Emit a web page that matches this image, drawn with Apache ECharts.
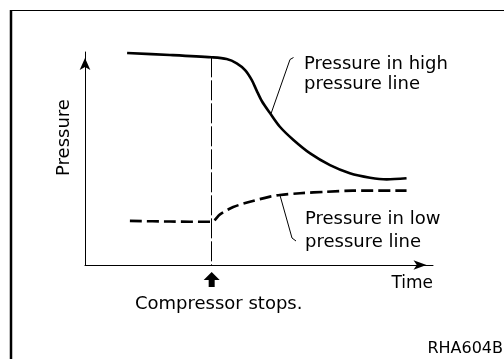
<!DOCTYPE html>
<html>
<head>
<meta charset="utf-8">
<script src="https://cdn.jsdelivr.net/npm/echarts@6/dist/echarts.min.js"></script>
<style>
  html, body { margin: 0; padding: 0; background: #ffffff; }
  #chart { width: 504px; height: 360px; }
</style>
</head>
<body>
<div id="chart"></div>
<script>
// Time axis runs 0..100, pressure axis 0..100 (arbitrary units)
const stopTime = 36.4;

// Pressure in the high pressure line: flat, then drops after the compressor stops
const timeHigh     = [12.1, 24.4, 36.4, 40.7, 43.6, 46.0, 47.9, 49.3, 50.8, 53.2, 56.0, 59.9, 64.7, 70.4, 76.1, 81.9, 86.7, 92.4];
const pressureHigh = [99.5, 98.6, 97.5, 96.7, 94.7, 91.5, 86.9, 82.0, 77.0, 71.2, 64.9, 58.7, 52.4, 46.9, 43.1, 41.0, 40.2, 40.7];

// Pressure in the low pressure line: flat, then rises after the compressor stops
const timeLow     = [12.9, 24.4, 36.4, 38.8, 42.6, 47.4, 53.2, 56.0, 61.8, 69.5, 77.0, 92.4];
const pressureLow = [20.7, 20.4, 20.3, 23.8, 27.2, 29.7, 32.1, 32.9, 33.7, 34.4, 34.9, 34.9];

// Curve points the callout leaders point at (indices into the arrays above)
const highLeaderIdx = 9;
const lowLeaderIdx = 7;

const highLabel = ['Pressure in high', 'pressure line'];
const lowLabel = ['Pressure in low', 'pressure line'];
const yName = 'Pressure';
const xName = 'Time';
const stopLabel = 'Compressor stops.';
const figureCode = 'RHA604B';

const FONT = 'DejaVu Sans';
const INK = '#000000';

const pairs = (xs, ys) => xs.map((x, i) => [x, ys[i]]);
const highAtStop = pressureHigh[timeHigh.indexOf(stopTime)];

const chart = echarts.init(document.getElementById('chart'), null, { renderer: 'canvas' });

chart.setOption({
  animation: false,
  backgroundColor: '#ffffff',
  grid: { left: 85, right: 71, top: 52, bottom: 95, containLabel: false },
  xAxis: {
    type: 'value', min: 0, max: 100,
    axisLine: {
      show: true, onZero: false,
      symbol: ['none', 'arrow'], symbolSize: [7, 13], symbolOffset: [0, -6.5],
      lineStyle: { color: INK, width: 1 }
    },
    axisTick: { show: false }, axisLabel: { show: false }, splitLine: { show: false }
  },
  yAxis: {
    type: 'value', min: 0, max: 100,
    axisLine: {
      show: true, onZero: false,
      symbol: ['none', 'arrow'], symbolSize: [8, 12], symbolOffset: [0, -6],
      lineStyle: { color: INK, width: 1 }
    },
    axisTick: { show: false }, axisLabel: { show: false }, splitLine: { show: false }
  },
  series: [
    {
      name: 'high',
      type: 'line',
      data: pairs(timeHigh, pressureHigh),
      smooth: 0.3,
      showSymbol: false,
      lineStyle: { color: INK, width: 2.6 },
      markLine: {
        silent: true,
        symbol: ['none', 'none'],
        label: { show: false },
        lineStyle: { color: INK, width: 1, type: [20, 3] },
        data: [[{ coord: [stopTime, highAtStop] }, { coord: [stopTime, 0] }]]
      }
    },
    {
      name: 'low',
      type: 'line',
      data: pairs(timeLow, pressureLow),
      smooth: 0.3,
      showSymbol: false,
      lineStyle: { color: INK, width: 2.6, type: [12, 5] }
    },
    {
      name: 'stop',
      type: 'scatter',
      clip: false,
      data: [[stopTime, 0]],
      symbol: 'path://M8,0 L16,8 L11,8 L11,15 L5,15 L5,8 L0,8 Z',
      symbolSize: [16, 15],
      symbolOffset: [0, 14.5],
      itemStyle: { color: INK, opacity: 1 },
      label: {
        show: true, position: 'bottom', distance: 8, offset: [7, 0],
        formatter: stopLabel,
        fontFamily: FONT, fontSize: 18, color: INK
      }
    }
  ]
});

// Annotations: callout texts with leaders, axis names, frame and figure code
const hp = chart.convertToPixel({ seriesIndex: 0 }, [timeHigh[highLeaderIdx], pressureHigh[highLeaderIdx]]);
const lp = chart.convertToPixel({ seriesIndex: 1 }, [timeLow[lowLeaderIdx], pressureLow[lowLeaderIdx]]);

const txt = (x, y, s, extra) => Object.assign({
  type: 'text', x, y, silent: true,
  style: Object.assign({ text: s, font: '18px "' + FONT + '"', fill: INK, align: 'left', verticalAlign: 'middle' }, extra || {})
});

chart.setOption({
  graphic: [
    // frame
    { type: 'line', silent: true, shape: { x1: 10, y1: 10.5, x2: 504, y2: 10.5 }, style: { stroke: INK, lineWidth: 1 } },
    { type: 'line', silent: true, shape: { x1: 11, y1: 10, x2: 11, y2: 359 }, style: { stroke: INK, lineWidth: 2.5 } },
    // leaders
    { type: 'polyline', silent: true, shape: { points: [[293.5, 57.5], [290, 59.5], [hp[0] + 1, hp[1]]] }, style: { stroke: INK, lineWidth: 1, fill: null } },
    { type: 'polyline', silent: true, shape: { points: [[lp[0], lp[1]], [292, 238], [296, 241]] }, style: { stroke: INK, lineWidth: 1, fill: null } },
    // callout texts
    txt(304, 64, highLabel[0]),
    txt(304, 84, highLabel[1]),
    txt(305, 219, lowLabel[0]),
    txt(305, 242, lowLabel[1]),
    // axis names
    Object.assign(txt(64, 137.5, yName, { align: 'center' }), { rotation: Math.PI / 2 }),
    txt(433, 284, xName, { align: 'right', font: '17px "' + FONT + '"' }),
    // figure code
    txt(503, 348.5, figureCode, { align: 'right', font: '16px "' + FONT + '"' })
  ]
});
</script>
</body>
</html>
